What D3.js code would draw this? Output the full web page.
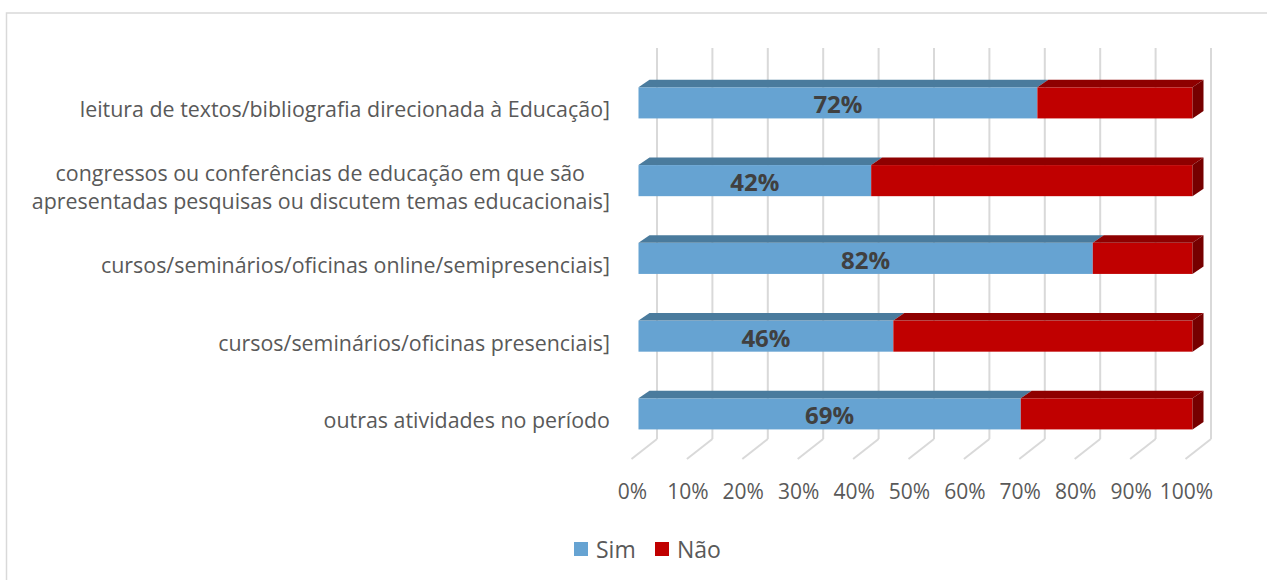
<!DOCTYPE html>
<html>
<head>
<meta charset="utf-8">
<script src="https://cdn.jsdelivr.net/npm/d3@7"></script>
<style>
  body { margin: 0; background: #fff; }
  text { font-family: "Open Sans", sans-serif; }
</style>
</head>
<body>
<div id="chart"></div>
<script>
let width = 1267;
let height = 580;

// data
let categories = [
  "leitura de textos/bibliografia direcionada à Educação]",
  "congressos ou conferências de educação em que são apresentadas pesquisas ou discutem temas educacionais]",
  "cursos/seminários/oficinas online/semipresenciais]",
  "cursos/seminários/oficinas presenciais]",
  "outras atividades no período"
];
let categoryLines = [
  ["leitura de textos/bibliografia direcionada à Educação]"],
  ["congressos ou conferências de educação em que são", "apresentadas pesquisas ou discutem temas educacionais]"],
  ["cursos/seminários/oficinas online/semipresenciais]"],
  ["cursos/seminários/oficinas presenciais]"],
  ["outras atividades no período"]
];
let simValues = [0.72, 0.42, 0.82, 0.46, 0.69];
let naoValues = [0.28, 0.58, 0.18, 0.54, 0.31];
let tickValues = [0, 0.1, 0.2, 0.3, 0.4, 0.5, 0.6, 0.7, 0.8, 0.9, 1];
let seriesNames = ["Sim", "Não"];

let colors = {
  Sim: { front: "#66a3d2", top: "#4a7b9d", side: "#3f6a88" },
  "Não": { front: "#c00000", top: "#8e0000", side: "#760000" }
};

// 3d look
let depthX = 11, depthY = 7.5;     // bar depth
let wallX = 18.5;                  // back wall offset from bar front
let floorX = -7;                   // floor front offset from bar front
let wallTop = 48, wallBottom = 439, floorFront = 459;

let svg = d3.select("#chart").append("svg")
    .attr("width", width)
    .attr("height", height);

// chart frame
svg.append("path")
    .attr("d", "M6.5," + (height + 5) + " L6.5,13 L" + (width + 5) + ",13")
    .attr("fill", "none")
    .attr("stroke", "#d9d9d9")
    .attr("stroke-width", 1.5);

let xScale = d3.scaleLinear().domain([0, 1]).range([638.5, 1192.5]);
let yScale = d3.scaleBand().domain(categories).range([64, 452.75])
    .paddingInner(0.6).paddingOuter(0.3);

// gridlines on the back wall and floor
let grid = svg.append("g").attr("class", "grid");
grid.selectAll(".wall").data(tickValues).enter()
    .append("line")
    .attr("x1", d => xScale(d) + wallX)
    .attr("x2", d => xScale(d) + wallX)
    .attr("y1", wallTop)
    .attr("y2", wallBottom)
    .attr("stroke", "#d9d9d9")
    .attr("stroke-width", 2);
grid.selectAll(".floor").data(tickValues).enter()
    .append("line")
    .attr("x1", d => xScale(d) + wallX)
    .attr("x2", d => xScale(d) + floorX)
    .attr("y1", wallBottom)
    .attr("y2", floorFront)
    .attr("stroke", "#d9d9d9")
    .attr("stroke-width", 2);

// tick labels
svg.selectAll(".tick-label").data(tickValues).enter()
    .append("text")
    .attr("class", "tick-label")
    .attr("x", d => xScale(d) - 6)
    .attr("y", 491)
    .attr("text-anchor", "middle")
    .attr("dominant-baseline", "central")
    .attr("font-size", 21)
    .attr("fill", "#595959")
    .text(d3.format(".0%"));

// stacked data
let rows = categories.map((c, i) => ({
  category: c,
  segments: [
    { name: "Sim", x0: 0, x1: simValues[i], value: simValues[i] },
    { name: "Não", x0: simValues[i], x1: simValues[i] + naoValues[i], value: naoValues[i] }
  ]
}));

let barGroups = svg.selectAll(".bar").data(rows).enter()
    .append("g")
    .attr("class", "bar");

barGroups.each(function(row, i) {
  let g = d3.select(this);
  let y = yScale(row.category);
  let h = yScale.bandwidth();
  row.segments.forEach(function(s, k) {
    let a = xScale(s.x0), b = xScale(s.x1);
    g.append("rect")
        .attr("x", a).attr("y", y)
        .attr("width", b - a).attr("height", h)
        .attr("fill", colors[s.name].front);
    g.append("polygon")
        .attr("points", [[a, y], [a + depthX, y - depthY], [b + depthX, y - depthY], [b, y]].join(" "))
        .attr("fill", colors[s.name].top);
    if (k == row.segments.length - 1) {
      g.append("polygon")
          .attr("points", [[b, y], [b + depthX, y - depthY], [b + depthX, y + h - depthY], [b, y + h]].join(" "))
          .attr("fill", colors[s.name].side);
    }
  });
  // data label on the Sim segment
  let sim = row.segments[0];
  g.append("text")
      .attr("x", (xScale(sim.x0) + xScale(sim.x1)) / 2)
      .attr("y", y + h / 2 + 1)
      .attr("text-anchor", "middle")
      .attr("dominant-baseline", "central")
      .attr("font-size", 24)
      .attr("font-weight", "bold")
      .attr("fill", "#404040")
      .text(d3.format(".0%")(sim.value));
});

// category labels
categories.forEach(function(c, i) {
  let lines = categoryLines[i];
  let cy = yScale(c) + yScale.bandwidth() / 2 + 6;
  let t = svg.append("text")
      .attr("text-anchor", "end")
      .attr("font-size", 21.4)
      .attr("fill", "#595959");
  lines.forEach(function(line, j) {
    t.append("tspan")
        .attr("x", (lines.length > 1 && j == 0) ? 585 : 610)
        .attr("y", cy + (j - (lines.length - 1) / 2) * 28)
        .attr("dominant-baseline", "central")
        .text(line);
  });
});

// legend
let legendX = [574, 655];
let legend = svg.selectAll(".legend").data(seriesNames).enter()
    .append("g")
    .attr("class", "legend")
    .attr("transform", (d, i) => "translate(" + legendX[i] + ",542)");
legend.append("rect")
    .attr("width", 14).attr("height", 14)
    .attr("fill", d => colors[d].front);
legend.append("text")
    .attr("x", 22)
    .attr("y", 7)
    .attr("dominant-baseline", "central")
    .attr("font-size", 23)
    .attr("fill", "#595959")
    .text(d => d);
</script>
</body>
</html>
